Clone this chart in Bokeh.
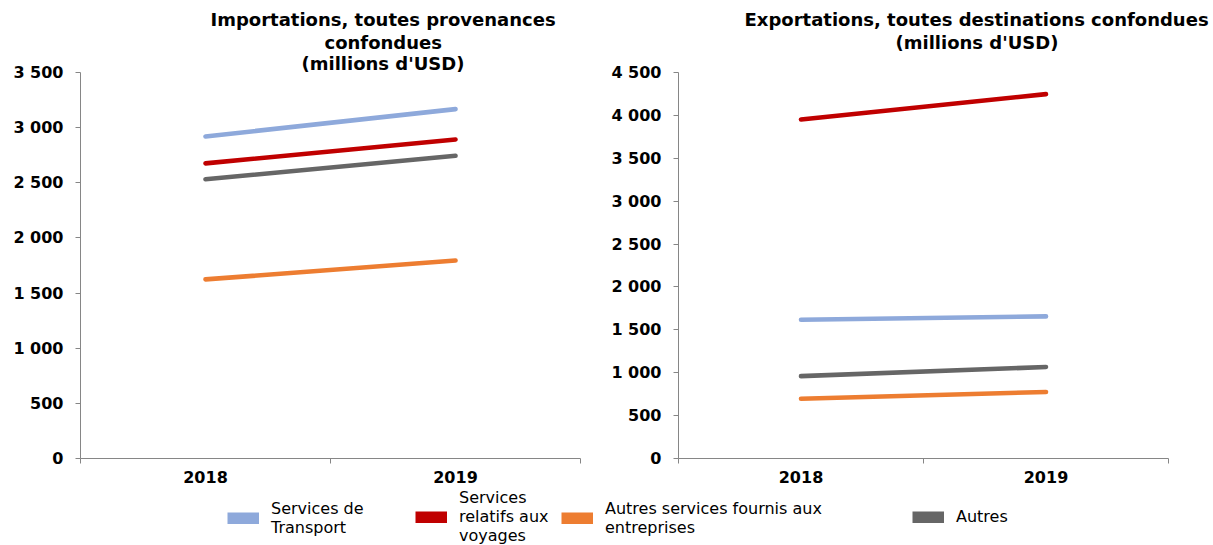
from bokeh.plotting import figure
from bokeh.models import (Range1d, FixedTicker, Title, Legend, LegendItem)
from bokeh.layouts import column, row
from bokeh.embed import file_html
from bokeh.resources import INLINE

years = ["2018", "2019"]
series = ["Services de\nTransport", "Services\nrelatifs aux\nvoyages",
          "Autres services fournis aux\nentreprises", "Autres"]
colors = ["#8EA9DB", "#C00000", "#ED7D31", "#666666"]

imports = {
    "transport": [2920, 3168],
    "voyages": [2676, 2893],
    "entreprises": [1624, 1795],
    "autres": [2532, 2745],
}
exports = {
    "transport": [1618, 1657],
    "voyages": [3953, 4248],
    "entreprises": [697, 776],
    "autres": [960, 1067],
}
keys = ["transport", "voyages", "entreprises", "autres"]

left_ticks = [0, 500, 1000, 1500, 2000, 2500, 3000, 3500]
right_ticks = [0, 500, 1000, 1500, 2000, 2500, 3000, 3500, 4000, 4500]

title_imp = ["Importations, toutes provenances", "confondues", "(millions d'USD)"]
title_exp = ["Exportations, toutes destinations confondues", "(millions d'USD)", " "]

FONT = "DejaVu Sans"
AXIS_COLOR = "#868686"

FIG_H = 486
BT = 72
BB = 28


def fmt(v):
    return f"{v:,}".replace(",", " ")


def make_panel(data, yticks, title_lines, title_offsets, title_standoffs,
               width, bl, br):
    xs = [i + 0.5 for i in range(len(years))]
    p = figure(width=width, height=FIG_H, output_backend="svg",
               toolbar_location=None, x_range=Range1d(0, len(years)),
               y_range=Range1d(yticks[0], yticks[-1]),
               min_border_left=bl, min_border_right=br,
               min_border_top=BT, min_border_bottom=BB)
    p.title = None
    p.outline_line_color = None
    p.grid.visible = False
    p.background_fill_color = "white"
    p.border_fill_color = "white"
    # title lines, nearest to the frame first
    for line_text, off, so in reversed(list(zip(title_lines, title_offsets,
                                                title_standoffs))):
        p.add_layout(Title(text=line_text, align="left", offset=off, standoff=so,
                           text_font=FONT, text_font_size="18px",
                           text_font_style="bold", text_color="black"), "above")
    for k, c in zip(keys, colors):
        p.line(xs, data[k], line_color=c, line_width=4.6, line_cap="round")
    # x axis
    xa = p.xaxis[0]
    xa.ticker = FixedTicker(ticks=xs, minor_ticks=list(range(len(years) + 1)))
    xa.major_label_overrides = {x: y for x, y in zip(xs, years)}
    xa.major_tick_out = 0
    xa.major_tick_in = 0
    xa.minor_tick_out = 5
    xa.minor_tick_in = 0
    xa.minor_tick_line_color = AXIS_COLOR
    xa.axis_line_color = AXIS_COLOR
    xa.major_label_text_font = FONT
    xa.major_label_text_font_size = "16px"
    xa.major_label_text_font_style = "bold"
    xa.major_label_text_color = "black"
    xa.major_label_standoff = 7
    # y axis
    ya = p.yaxis[0]
    ya.ticker = FixedTicker(ticks=yticks)
    ya.major_label_overrides = {v: fmt(v) for v in yticks}
    ya.major_tick_out = 5
    ya.major_tick_in = 0
    ya.minor_tick_out = 0
    ya.minor_tick_in = 0
    ya.major_tick_line_color = AXIS_COLOR
    ya.axis_line_color = AXIS_COLOR
    ya.major_label_text_font = FONT
    ya.major_label_text_font_size = "16px"
    ya.major_label_text_font_style = "bold"
    ya.major_label_text_color = "black"
    ya.major_label_standoff = 12
    return p


p1 = make_panel(imports, left_ticks, title_imp, [130, 244, 221], [0, 0, -3],
                608, 80, 28)
p2 = make_panel(exports, right_ticks, title_exp, [66, 217, 0], [0, 0, -3],
                605, 70, 45)

# legend strip
LEG_H = 59
pl = figure(width=1213, height=LEG_H, output_backend="svg", toolbar_location=None,
            x_range=Range1d(0, 1), y_range=Range1d(0, 1),
            min_border=0, min_border_left=0, min_border_right=0,
            min_border_top=0, min_border_bottom=0)
pl.title = None
pl.axis.visible = False
pl.grid.visible = False
pl.outline_line_color = None

legend_x = [227, 415, 561, 912]
legend_y = [8, 0, 8, 19]
nan = float("nan")
for lab, c, lx, ly in zip(series, colors, legend_x, legend_y):
    r = pl.line(x=[nan], y=[nan], line_color=c, line_width=12, line_cap="butt")
    lg = Legend(items=[LegendItem(label=lab, renderers=[r])],
                location=(lx, ly), orientation="horizontal",
                glyph_width=32, glyph_height=12, label_standoff=12,
                padding=0, margin=0, spacing=0,
                border_line_color=None, background_fill_alpha=0,
                label_text_font=FONT, label_text_font_size="16px",
                label_text_color="black", label_text_line_height=1.15)
    pl.add_layout(lg, "center")

layout = column(row(p1, p2), pl)
open("out.html", "w").write(file_html(layout, INLINE))
